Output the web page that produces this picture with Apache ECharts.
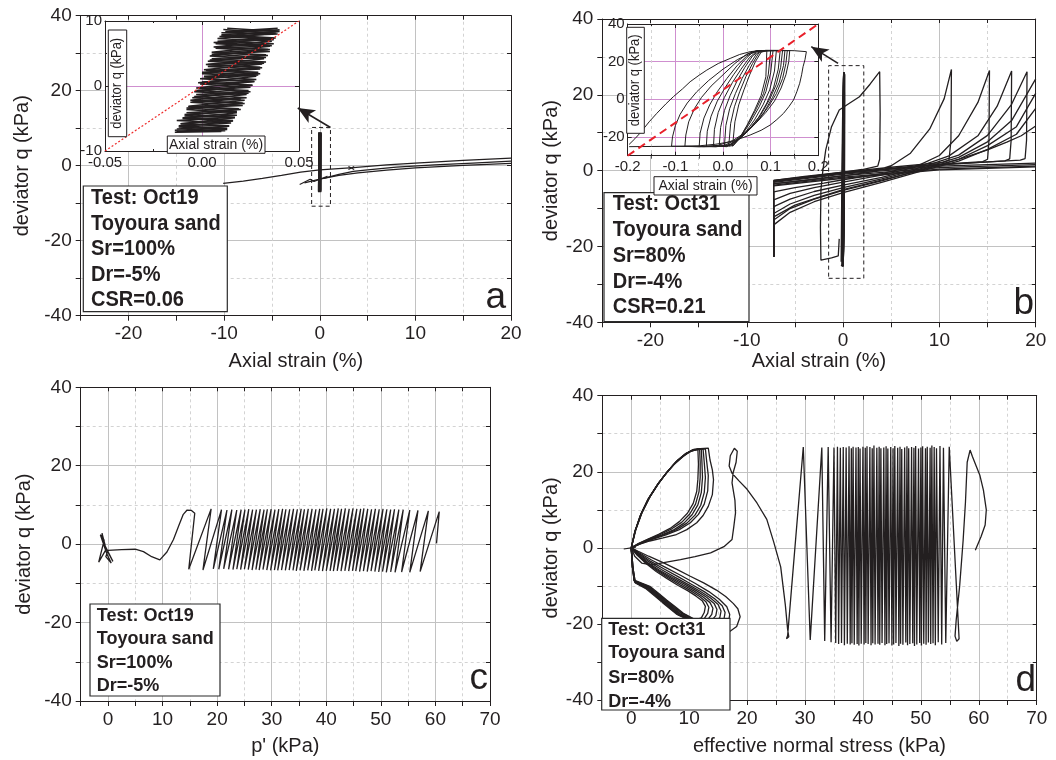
<!DOCTYPE html>
<html><head><meta charset="utf-8">
<script src="https://cdn.jsdelivr.net/npm/echarts@6/dist/echarts.min.js"></script>
<style>html,body{margin:0;padding:0;background:#fff}#chart{width:1056px;height:760px}</style>
</head><body><div id="chart"></div>
<script>
// ---------------- DATA ----------------
// Panel a (Oct19, Sr=100%): axial strain (%) vs deviator q (kPa)
const a_branch1 = [[-10.1,-4.7],[-8,-4.1],[-6,-3.4],[-4,-2.6],[-2,-1.7],[0,-1.1],[3.5,-0.5],[7,0.2],[10,0.7],[15,1.4],[20,2.0]];
const a_branch2 = [[-2.1,-5.0],[-1,-3.6],[-0.6,-4.2],[0.8,-2.8],[0.4,-3.4],[2,-2.3],[3.5,-1.5],[5,-1.1],[8,-0.4],[12,0.2],[16,0.7],[20,1.2]];
const a_branch3 = [[-1.6,-4.6],[0,-3.6],[2,-2.6],[4,-1.9],[7,-1.2],[10,-0.6],[15,0.1],[20,0.6]];
const a_marks = [[3.0,-0.2],[3.6,-1.0],[3.3,-0.6],[3.0,-1.0],[3.6,-0.2]];
const a_zoomBox = [[-0.85,-10.8],[1.12,-10.8],[1.12,10.2],[-0.85,10.2],[-0.85,-10.8]];
const a_arrow = [[1.12,10.2],[-2.3,15.4]];
// inset a: small-strain cycles
const ia_zig1 = [[-0.014,-6.8],[0.013,-6.5],[-0.012,-6.1],[0.015,-5.7],[-0.013,-5.3],[0.017,-4.8],[-0.009,-4.4],[0.018,-3.9],[-0.008,-3.4],[0.021,-3.0],[-0.006,-2.5],[0.020,-2.0],[-0.004,-1.6],[0.024,-1.1],[-0.003,-0.7],[0.025,-0.2],[-0.001,0.3],[0.027,0.7],[0.001,1.2],[0.029,1.7],[0.000,2.1],[0.030,2.6],[0.003,3.0],[0.032,3.5],[0.004,4.0],[0.033,4.4],[0.005,4.9],[0.035,5.3],[0.007,5.8],[0.036,6.2],[0.006,6.7],[0.037,7.1],[0.009,7.6],[0.039,8.0],[0.010,8.2],[0.040,8.6],[0.012,8.4],[0.039,8.9]];
const ia_zig2 = [[0.011,8.7],[0.038,8.1],[0.008,7.3],[0.036,6.9],[0.006,6.0],[0.034,5.6],[0.004,4.6],[0.032,4.2],[0.002,3.3],[0.030,2.9],[0.000,1.9],[0.028,1.5],[-0.002,0.5],[0.026,0.1],[-0.004,-0.9],[0.023,-1.3],[-0.006,-2.2],[0.021,-2.6],[-0.008,-3.6],[0.018,-4.1],[-0.010,-5.0],[0.016,-5.4],[-0.012,-6.3],[0.013,-6.7],[-0.013,-7.0],[0.012,-6.9]];
const ia_zig3 = [[-0.013,-6.6],[0.014,-6.2],[-0.011,-5.8],[0.016,-5.3],[-0.010,-4.9],[0.018,-4.5],[-0.008,-4.1],[0.020,-3.6],[-0.007,-3.2],[0.022,-2.7],[-0.005,-2.3],[0.023,-1.8],[-0.003,-1.3],[0.025,-0.9],[-0.002,-0.4],[0.026,0.1],[0.000,0.6],[0.028,1.0],[0.001,1.5],[0.030,1.9],[0.002,2.4],[0.031,2.8],[0.003,3.3],[0.033,3.7],[0.005,4.2],[0.034,4.7],[0.006,5.1],[0.035,5.6],[0.008,6.0],[0.037,6.5],[0.008,6.9],[0.038,7.4],[0.010,7.9],[0.039,8.4]];
const ia_zig4 = [[0.013,8.9],[0.040,8.4],[0.010,7.7],[0.037,7.3],[0.007,6.5],[0.035,6.1],[0.005,5.2],[0.033,4.8],[0.003,3.8],[0.031,3.4],[0.001,2.5],[0.029,2.1],[-0.001,1.1],[0.027,0.7],[-0.003,-0.3],[0.024,-0.7],[-0.005,-1.8],[0.022,-2.2],[-0.007,-3.1],[0.019,-3.5],[-0.009,-4.6],[0.017,-4.9],[-0.011,-5.8],[0.014,-6.1],[-0.014,-7.1],[0.010,-7.0]];
const ia_ref = [[-0.05,-10],[0.05,10]];

// Panel b (Oct31, Sr=80%)
const b_pathA = [[-0.4,-18],[-0.5,-22.5],[-1.2,-23.0],[-2.3,-23.6],[-2.35,-15],[-2.3,-5.1],[-2.1,0],[-1.8,5.5],[-1.2,11.6],[-0.4,16],[0.5,17.5],[1.7,19.5],[2.8,22.8],[3.8,26.1],[3.85,15],[3.8,3],[3.6,1.2],[2,0.3],[0,-0.4],[-3,-1.4],[-7.2,-2.6],[-7.2,-22.7]];
const b_c2 = [[-7.2,-22.7],[-7.2,-3.4],[-4,-2.6],[0,-1.4],[3,-0.3],[5,1.3],[7,4.6],[9,11],[10.5,19],[11.25,26.7],[11.2,8],[11.0,2.8],[10.4,2.2],[5,0.9],[0,-0.4],[-4,-1.5],[-7.2,-2.6]];
const b_c3 = [[-7.2,-22.7],[-7.2,-5.6],[-5,-4.5],[-2,-3.3],[0,-2.4],[4,-0.8],[8,1.6],[10,4.0],[12,9.2],[14,18],[15.2,26.4],[15.15,8],[15.0,3.0],[14.5,2.4],[8,1.3],[0,-0.5],[-7.2,-2.7]];
const b_c4 = [[-7.2,-22.7],[-7.2,-7.7],[-5.5,-6.0],[-3,-4.5],[0,-3.0],[4,-1.2],[8,1.2],[11,3.9],[14,9.2],[16,17],[17.5,26.3],[17.45,8],[17.3,3.1],[16.8,2.6],[10,1.5],[0,-0.6],[-7.2,-2.8]];
const b_c5 = [[-7.2,-22.7],[-7.2,-9.5],[-5.5,-7.5],[-3,-5.5],[0,-3.8],[4,-1.8],[8,0.8],[12,4.1],[15,9.3],[17.5,17.5],[19.1,26.1],[19.05,8],[18.9,3.2],[18.4,2.8],[10,1.6],[0,-0.7],[-7.2,-2.9]];
const b_c6 = [[-7.2,-22.7],[-7.2,-11.3],[-5.5,-8.8],[-3,-6.5],[0,-4.5],[4,-2.2],[8,0.5],[12,3.5],[15,7.6],[17.5,13.2],[20,24.2]];
const b_c7 = [[-7.2,-22.7],[-7.2,-13],[-5.5,-10],[-3,-7.5],[0,-5.2],[4,-2.7],[8,0.2],[12,3.0],[15,6.6],[18,11.6],[20,20.4]];
const b_c8 = [[-7.2,-22.7],[-7.2,-14.3],[-5.5,-11],[-3,-8.2],[0,-5.8],[4,-3.1],[8,-0.2],[12,2.5],[15,5.6],[18,9.6],[20,16.4]];
const b_c9 = [[-7.2,-22.7],[-7.2,-12.2],[-5,-9.1],[-2,-6.6],[0,-5.0],[4,-2.5],[8,0],[12,3.0],[15,5.5],[17,7.5],[18.5,9.2],[20,11.8]];
const b_ret1 = [[20,2.0],[10,1.2],[0,-0.9],[-7.2,-3.1]];
const b_ret2 = [[20,1.6],[10,0.8],[0,-1.3],[-7.2,-3.5]];
const b_ret3 = [[20,1.2],[10,0.4],[0,-1.7],[-7.2,-3.8]];
const b_ret4 = [[20,1.0],[10,0.2],[0,-2.0],[-7.2,-4.0]];
const b_zoomBox = [[-1.5,-28.4],[2.15,-28.4],[2.15,27.7],[-1.5,27.7],[-1.5,-28.4]];
const b_arrow = [[-0.52,28.3],[-3.3,32.7]];
// inset b: hysteresis loops
const ib_outer = [[-0.197,-24],[-0.185,-21],[-0.174,-18],[-0.155,-12],[-0.139,-7.5],[-0.12,-2.5],[-0.104,1.4],[-0.085,5.5],[-0.069,9.3],[-0.05,12.8],[-0.034,15.5],[-0.01,19],[0.015,21.7],[0.035,23.8],[0.057,25.3],[0.08,25.9],[0.12,26],[0.15,25.8],[0.175,25.3],[0.172,21],[0.168,17.3],[0.165,13],[0.161,8.5],[0.155,4],[0.148,-0.4],[0.138,-4],[0.127,-7.5],[0.113,-10.8],[0.099,-13.7],[0.08,-16.5],[0.057,-19],[0.035,-21],[0.015,-22.6],[-0.015,-23.9],[-0.048,-24.7],[-0.1,-25],[-0.15,-25.1],[-0.197,-25.2]];
const ib_L1 = [[-0.108,-25],[-0.106,-20],[-0.1,-14],[-0.09,-8],[-0.075,-2],[-0.055,4],[-0.03,10],[0,16],[0.03,21],[0.06,25],[0.09,26],[0.14,25.8],[0.138,20],[0.132,13],[0.122,6],[0.108,-1],[0.09,-7],[0.068,-13],[0.045,-18],[0.02,-22],[-0.01,-24.5],[-0.05,-25.2],[-0.108,-25]];
const ib_L2 = [[-0.08,-25],[-0.078,-19],[-0.072,-12],[-0.06,-5],[-0.045,1],[-0.025,7],[0,13],[0.025,19],[0.05,24],[0.07,25.8],[0.135,25.9],[0.132,19],[0.125,11],[0.112,3],[0.095,-4],[0.075,-11],[0.05,-17],[0.025,-22],[0,-24.8],[-0.04,-25.3],[-0.08,-25]];
const ib_L3 = [[-0.05,-25],[-0.048,-18],[-0.04,-10],[-0.028,-3],[-0.012,4],[0.008,11],[0.03,18],[0.05,23],[0.07,25.7],[0.13,25.9],[0.127,18],[0.118,9],[0.104,1],[0.086,-7],[0.064,-14],[0.04,-20],[0.015,-24],[-0.015,-25.3],[-0.05,-25]];
const ib_L4 = [[-0.035,-25],[-0.033,-17],[-0.025,-9],[-0.012,-1],[0.004,6],[0.022,13],[0.042,20],[0.06,24.5],[0.075,25.8],[0.125,25.9],[0.121,17],[0.112,8],[0.098,0],[0.08,-8],[0.058,-15],[0.035,-21],[0.012,-24.6],[-0.035,-25]];
const ib_L5 = [[-0.02,-25],[-0.018,-16],[-0.01,-7],[0.003,1],[0.02,9],[0.038,16],[0.055,22],[0.072,25.8],[0.12,25.9],[0.116,16],[0.106,6],[0.092,-2],[0.074,-10],[0.052,-17],[0.03,-22],[0.008,-25],[-0.02,-25]];
const ib_L6 = [[-0.008,-25],[-0.005,-15],[0.003,-6],[0.015,2],[0.03,10],[0.046,17],[0.062,23],[0.076,25.8],[0.112,25.9],[0.108,15],[0.098,5],[0.084,-3],[0.066,-11],[0.046,-18],[0.025,-23],[0.008,-25.2],[-0.008,-25]];
const ib_L7 = [[0.003,-25],[0.006,-14],[0.014,-5],[0.026,3],[0.04,11],[0.055,18],[0.07,24],[0.08,25.8],[0.105,25.9],[0.1,14],[0.09,4],[0.076,-4],[0.058,-12],[0.04,-19],[0.022,-24],[0.003,-25]];
const ib_L8 = [[0.012,-25],[0.016,-13],[0.024,-4],[0.035,4],[0.048,12],[0.062,19],[0.075,24.5],[0.085,25.8],[0.1,25.9],[0.095,13],[0.085,3],[0.07,-5],[0.053,-13],[0.036,-20],[0.022,-24.5],[0.012,-25]];
const ib_L9 = [[0.02,-25],[0.025,-12],[0.033,-3],[0.044,5],[0.056,13],[0.068,20],[0.08,25],[0.092,25.8],[0.09,12],[0.08,2],[0.066,-6],[0.05,-14],[0.035,-21],[0.02,-25]];
const ib_ref = [[-0.2,-30],[0.2,40]];

// Panel c (Oct19): effective stress path p' vs q — cycle peaks and troughs
const c_start = [[60.2,0.2]];
const c_top_p = [60.7,58.7,56.8,55.3,54.1,53.3,52.5,51.8,51.1,50.4,49.7,49.0,48.3,47.6,46.9,46.3,45.6,44.9,44.2,43.5,42.8,42.2,41.5,40.8,40.1,39.4,38.8,38.1,37.4,36.7,36.0,35.4,34.7,34.0,33.3,32.6,32.0,31.3,30.6,29.9,29.2,28.6,27.9,27.2,26.5,25.8,25.1,24.4,23.6,22.7,21.8,20.8,18.9];
const c_top_q = [8.3,8.5,8.6,8.7,8.8,8.8,8.9,8.8,8.9,9.0,8.9,9.0,8.9,9.0,9.1,9.0,9.0,9.1,9.0,9.1,9.0,9.1,9.0,9.0,9.1,9.0,9.0,8.9,9.0,9.0,8.9,9.0,8.9,9.0,8.9,8.9,9.0,8.9,8.8,8.9,8.9,8.8,8.9,8.8,8.8,8.9,8.8,8.8,8.7,8.8,8.7,8.8,9.0];
const c_bot_p = [57.2,55.3,53.8,52.6,51.8,51.0,50.3,49.6,48.9,48.2,47.5,46.8,46.1,45.4,44.8,44.1,43.4,42.7,42.0,41.3,40.7,40.0,39.3,38.6,37.9,37.3,36.6,35.9,35.2,34.5,33.9,33.2,32.5,31.8,31.1,30.5,29.8,29.1,28.4,27.7,27.1,26.4,25.7,25.0,24.3,23.6,22.9,22.1,21.2,20.3,19.3,17.4,14.8];
const c_bot_q = [-7.0,-7.2,-7.1,-7.2,-7.1,-7.2,-7.0,-7.1,-7.0,-6.9,-7.0,-6.9,-7.0,-6.9,-6.8,-6.9,-6.8,-6.9,-6.8,-6.9,-6.8,-6.8,-6.9,-6.8,-6.7,-6.8,-6.7,-6.8,-6.7,-6.8,-6.7,-6.6,-6.7,-6.6,-6.7,-6.6,-6.7,-6.6,-6.5,-6.6,-6.5,-6.6,-6.5,-6.4,-6.5,-6.4,-6.5,-6.4,-6.3,-6.4,-6.3,-6.6,-6.4];
const c_tail = [[15.9,7.9],[15.3,8.6],[14.5,8.7],[13.8,7.6],[13.0,4.8],[12.0,1.2],[10.8,-2.0],[9.5,-4.0],[8.0,-3.2],[6.5,-1.9],[5.0,-1.3],[2.5,-1.4],[0.0,-1.6],[-0.4,-3.2],[0.6,-4.8],[-0.2,-2.5],[-1.4,2.4],[-0.7,1.0],[-1.7,-4.6],[-0.3,-1.2],[0.9,-4.4],[-0.9,0.6],[-1.1,2.8],[-0.5,-0.4]];

// Panel d (Oct31): effective normal stress vs q
const d_start = [[59.4,-0.6],[60.4,3.0],[61.1,6.0],[61.3,10.0],[60.8,15.2],[60.2,19.0],[59.6,21.3],[58.9,24.0],[58.5,25.7],[58.0,22.5],[57.7,12],[57.3,2],[56.7,-10],[56.1,-19],[55.9,-23.2],[56.2,-24.6],[56.6,-23.9]];
const d_top_p = [54.9,53.9,53.3,52.7,52.3,51.9,51.6,51.1,50.8,50.3,50.0,49.6,49.1,48.8,48.4,47.9,47.6,47.2,46.7,46.4,46.0,45.5,45.2,44.8,44.3,44.0,43.6,43.1,42.8,42.4,41.9,41.6,41.2,40.7,40.4,40.0,39.5,39.2,38.8,38.3,38.0,37.6,37.1,36.6,36.1,35.6,35.0,34.0,32.9,29.7];
const d_top_q = [26.6,26.3,26.8,26.2,26.5,26.9,26.3,26.6,26.2,26.7,26.4,26.1,26.8,26.3,26.5,26.2,26.7,26.4,26.0,26.6,26.3,26.8,26.2,26.5,26.1,26.7,26.4,26.2,26.6,26.3,26.9,26.2,26.5,26.7,26.3,26.6,26.1,26.5,26.4,26.6,26.2,26.7,26.4,26.5,26.3,26.6,26.4,26.5,26.4,26.5];
const d_bot_p = [54.3,53.6,53.0,52.5,52.1,51.7,51.3,50.9,50.5,50.1,49.8,49.3,48.9,48.6,48.1,47.7,47.4,46.9,46.5,46.2,45.7,45.3,45.0,44.5,44.1,43.8,43.3,42.9,42.6,42.1,41.7,41.4,40.9,40.5,40.2,39.7,39.3,39.0,38.5,38.1,37.8,37.3,36.8,36.3,35.8,35.3,34.5,33.4,30.9,27.0];
const d_bot_q = [-25.0,-25.4,-24.8,-25.6,-25.1,-25.3,-24.9,-25.5,-25.2,-25.7,-25.0,-25.4,-25.8,-25.1,-25.3,-25.6,-24.9,-25.5,-25.2,-25.8,-25.0,-25.4,-25.7,-25.1,-25.3,-25.6,-25.0,-25.5,-25.2,-25.4,-25.1,-25.6,-25.3,-25.0,-25.4,-25.2,-25.7,-25.3,-25.5,-25.1,-25.4,-25.2,-25.6,-25.0,-25.3,-25.0,-24.8,-24.5,-24.2,-23.0];
const d_tail = [[26.8,-23.9],[27.2,-23.4],[27.0,-21.5],[26.6,-15],[25.8,-5],[24.6,1.5],[23.4,7.5],[21.7,11.8],[20.0,15.4],[18.6,17.6],[17.4,19.6],[16.9,21.5],[17.1,24.2],[17.8,26.2],[18.3,25.4],[18.1,22.5],[17.6,19.8],[17.4,17.1],[17.9,12.5],[18.0,9.2],[17.7,5.5],[17.4,2.2],[16.0,0.3],[13.7,-1.3],[11.0,-2.3],[8.5,-3.1],[5.6,-3.9],[3.5,-4.5],[1.8,-4.0],[0.6,-2.2],[0,0]];
const d_U1 = [[0,0],[0.6,4],[1.5,8.3],[2.8,12.5],[4.4,16.2],[5.8,19.2],[7.3,21.8],[8.8,23.8],[10.1,25.3],[11.9,26.1],[13.3,26.2],[13.6,23.1],[14.0,20.5],[14.2,17.9],[14.0,14],[13.3,10.9],[12.4,8.5],[11.3,6.6],[9.6,4.8],[7.8,3.5],[5.5,2.6],[3.2,1.8],[1.5,1.0],[0.5,0.4],[0,0]];
const d_U2 = [[0,0],[0.6,4.2],[1.6,8.6],[2.9,12.8],[4.5,16.5],[6.0,19.6],[7.5,22.2],[9.0,24.2],[10.4,25.6],[12.8,26.0],[13.0,23],[13.3,19],[13.2,15],[12.6,11.5],[11.6,8.8],[10.2,6.6],[8.3,4.8],[6.0,3.4],[3.6,2.2],[1.6,1.1],[0,0]];
const d_U3 = [[0,0],[0.7,4.5],[1.7,8.9],[3.0,13.0],[4.6,16.8],[6.2,19.9],[7.7,22.5],[9.2,24.4],[10.6,25.7],[12.4,26.0],[12.6,22.5],[12.8,18.5],[12.6,14.5],[12.0,11.2],[11.0,8.6],[9.6,6.5],[7.8,4.8],[5.6,3.4],[3.4,2.2],[1.5,1.1],[0,0]];
const d_U4 = [[0,0],[0.7,4.6],[1.8,9.1],[3.1,13.2],[4.7,17.0],[6.3,20.1],[7.8,22.7],[9.3,24.6],[10.7,25.8],[12.1,26.0],[12.2,22.5],[12.3,18.5],[12.1,14.6],[11.5,11.3],[10.5,8.7],[9.1,6.5],[7.4,4.8],[5.3,3.4],[3.2,2.2],[1.4,1.1],[0,0]];
const d_U5 = [[0,0],[0.7,4.7],[1.8,9.3],[3.2,13.4],[4.8,17.2],[6.4,20.3],[7.9,22.9],[9.4,24.8],[10.8,25.9],[11.8,26.1],[11.9,22.5],[11.9,18.5],[11.7,14.8],[11.1,11.5],[10.1,8.9],[8.7,6.7],[7.0,5.0],[5.0,3.5],[3.0,2.3],[1.3,1.1],[0,0]];
const d_U6 = [[0,0],[0.8,4.8],[1.9,9.4],[3.3,13.6],[4.9,17.4],[6.5,20.5],[8.0,23.0],[9.5,24.9],[11.5,26.0],[11.6,22],[11.5,18],[11.3,14.8],[10.7,11.7],[9.7,9.1],[8.3,6.9],[6.7,5.1],[4.8,3.6],[2.9,2.3],[1.2,1.1],[0,0]];
const d_D1 = [[0,0],[0.2,-4.8],[0.5,-8.5],[1.8,-9.3],[3.2,-10.1],[4.6,-11.8],[6.1,-13.7],[7.6,-15.5],[9,-17.2],[10.7,-18.6],[12.5,-19.8],[14.5,-20.8],[17,-22],[18.2,-20.7],[18.8,-18.1],[18.4,-16],[17.6,-14.6],[16.3,-12.8],[14.7,-11.1],[12.5,-9.2],[10.1,-7.4],[7.8,-5.6],[5.5,-3.9],[3,-2.2],[1.2,-0.9],[0,0]];
const d_D2 = [[0,0],[0.2,-4.9],[0.5,-8.6],[3.1,-10.2],[6.0,-13.8],[8.9,-17.3],[11.5,-19.3],[14,-20.5],[15.8,-20.8],[16.8,-19.5],[17.0,-17.5],[16.5,-15.5],[15.2,-13.5],[13.4,-11.5],[11,-9.3],[8.5,-7.2],[6,-5.2],[3.5,-3.2],[1.4,-1.3],[0,0]];
const d_D3 = [[0,0],[0.2,-5],[0.5,-8.7],[3,-10.3],[5.9,-13.9],[8.8,-17.4],[11.2,-19.3],[13.5,-20.2],[15.2,-20.2],[16.0,-18.8],[16.2,-17],[15.7,-15.2],[14.4,-13.4],[12.6,-11.5],[10.3,-9.5],[8,-7.5],[5.6,-5.5],[3.3,-3.5],[1.3,-1.4],[0,0]];
const d_D4 = [[0,0],[0.2,-5.0],[0.6,-8.8],[3,-10.4],[5.8,-14],[8.6,-17.5],[11,-19.3],[12.8,-19.8],[14.5,-19.6],[15.3,-18.3],[15.5,-16.6],[15,-14.9],[13.7,-13.2],[11.9,-11.4],[9.8,-9.6],[7.5,-7.7],[5.2,-5.7],[3.1,-3.7],[1.2,-1.5],[0,0]];
const d_D5 = [[0,0],[0.2,-5.1],[0.6,-8.9],[2.9,-10.5],[5.7,-14.1],[8.5,-17.6],[10.7,-19.2],[12.3,-19.6],[13.8,-19.2],[14.6,-17.8],[14.8,-16.2],[14.3,-14.6],[13,-13],[11.3,-11.3],[9.3,-9.6],[7.1,-7.8],[4.9,-5.9],[2.9,-3.9],[1.1,-1.6],[0,0]];
const d_D6 = [[0,0],[0.3,-5.2],[0.6,-9],[2.8,-10.6],[5.6,-14.2],[8.3,-17.6],[10.4,-19.1],[11.9,-19.4],[13.2,-18.9],[13.9,-17.5],[14.1,-15.9],[13.6,-14.4],[12.4,-12.9],[10.8,-11.3],[8.9,-9.7],[6.8,-7.9],[4.7,-6],[2.8,-4],[1.1,-1.7],[0,0]];
const d_D7 = [[0,0],[0.3,-5.3],[0.7,-9.1],[2.7,-10.7],[5.5,-14.3],[8.1,-17.6],[10.1,-19],[11.4,-19.2],[12.6,-18.6],[13.2,-17.2],[13.4,-15.6],[12.9,-14.2],[11.8,-12.8],[10.3,-11.3],[8.5,-9.8],[6.5,-8],[4.5,-6.1],[2.7,-4.1],[1,-1.8],[0,0]];
const d_D8 = [[0,0],[0.3,-5.4],[0.7,-9.2],[2.6,-10.8],[5.4,-14.4],[7.9,-17.5],[9.8,-18.8],[11,-19],[12.1,-18.4],[12.6,-17],[12.8,-15.4],[12.3,-14],[11.2,-12.7],[9.8,-11.3],[8.1,-9.9],[6.2,-8.1],[4.3,-6.2],[2.6,-4.2],[1,-1.9],[0,0]];
const d_tick = [[-1.3,-0.3],[0.8,0.2]];

// Text
const boxA = ['Test: Oct19','Toyoura sand','Sr=100%','Dr=-5%','CSR=0.06'];
const boxB = ['Test: Oct31','Toyoura sand','Sr=80%','Dr=-4%','CSR=0.21'];
const boxC = ['Test: Oct19','Toyoura sand','Sr=100%','Dr=-5%'];
const boxD = ['Test: Oct31','Toyoura sand','Sr=80%','Dr=-4%'];

// ---------------- CHART ----------------
const FONT = "'Liberation Sans', Arial, Helvetica, sans-serif";
const INK = '#231f20';
const GMAJ = '#c2c2c2', GMIN = '#d3d3d3', PURPLE = '#cf8fcf';
const xAxis = [], yAxis = [], series = [];

function fmtMult(m, dec) {
  return function (v) {
    const r = v / m;
    if (Math.abs(r - Math.round(r)) > 1e-6) return '';
    return dec != null ? v.toFixed(dec) : String(Math.round(v * 1000) / 1000);
  };
}
function noAx(extra) {
  return Object.assign({type:'value', axisLine:{show:false,onZero:false}, axisTick:{show:false}, axisLabel:{show:false}}, extra);
}
function mainAxes(g, xr, xName, xGap, yGap) {
  const yr = {min:-40, max:40, minor:10, major:20};
  const bx = {gridIndex:g, min:xr.min, max:xr.max};
  const by = {gridIndex:g, min:yr.min, max:yr.max};
  xAxis.push(noAx(Object.assign({}, bx, {position:'bottom', interval:xr.minor, splitLine:{show:true,lineStyle:{color:GMIN,type:[3,3],width:1}}, z:0})));
  xAxis.push(noAx(Object.assign({}, bx, {position:'bottom', minInterval:xr.major, maxInterval:xr.major, splitLine:{show:true,lineStyle:{color:GMAJ,width:1}}, z:0})));
  const xi = xAxis.length;
  xAxis.push(Object.assign({}, bx, {type:'value', position:'bottom', interval:xr.minor,
    axisLine:{show:true,onZero:false,lineStyle:{color:INK,width:1}},
    axisTick:{show:true,inside:false,length:5,lineStyle:{color:INK}},
    axisLabel:{show:true, formatter:fmtMult(xr.major), color:INK, fontSize:19, fontFamily:FONT, margin:9},
    splitLine:{show:false}, name:xName, nameLocation:'middle', nameGap:xGap,
    nameTextStyle:{color:INK, fontSize:20, fontFamily:FONT}, z:5}));
  xAxis.push(Object.assign({}, bx, {type:'value', position:'top', interval:xr.minor,
    axisLine:{show:true,onZero:false,lineStyle:{color:INK,width:1}},
    axisTick:{show:true,inside:true,length:4,lineStyle:{color:INK}},
    axisLabel:{show:false}, splitLine:{show:false}, z:5}));
  yAxis.push(noAx(Object.assign({}, by, {position:'left', interval:yr.minor, splitLine:{show:true,lineStyle:{color:GMIN,type:[3,3],width:1}}, z:0})));
  yAxis.push(noAx(Object.assign({}, by, {position:'left', interval:yr.major, splitLine:{show:true,lineStyle:{color:GMAJ,width:1}}, z:0})));
  const yi = yAxis.length;
  yAxis.push(Object.assign({}, by, {type:'value', position:'left', interval:yr.minor,
    axisLine:{show:true,onZero:false,lineStyle:{color:INK,width:1}},
    axisTick:{show:true,inside:false,length:5,lineStyle:{color:INK}},
    axisLabel:{show:true, formatter:fmtMult(yr.major), color:INK, fontSize:19, fontFamily:FONT, margin:9},
    splitLine:{show:false}, name:'deviator q (kPa)', nameLocation:'middle', nameGap:yGap,
    nameTextStyle:{color:INK, fontSize:20, fontFamily:FONT}, z:5}));
  yAxis.push(Object.assign({}, by, {type:'value', position:'right', interval:yr.minor,
    axisLine:{show:true,onZero:false,lineStyle:{color:INK,width:1}},
    axisTick:{show:true,inside:true,length:4,lineStyle:{color:INK}},
    axisLabel:{show:false}, splitLine:{show:false}, z:5}));
  return {xi, yi};
}
function insetAxes(g, xr, yr) {
  function spacing(r) { return r.nice ? {minInterval:r.nice, maxInterval:r.nice} : {interval:r.interval}; }
  const bx = Object.assign({gridIndex:g, min:xr.min, max:xr.max}, spacing(xr));
  const by = Object.assign({gridIndex:g, min:yr.min, max:yr.max}, spacing(yr));
  xAxis.push(noAx(Object.assign({}, bx, {position:'bottom',
    splitLine:{show:true,lineStyle:{color:PURPLE,width:1}},
    minorTick:{show:!!xr.minorGrid, splitNumber:2},
    minorSplitLine:{show:!!xr.minorGrid, lineStyle:{color:GMIN,type:[3,3]}}, z:4})));
  const xi = xAxis.length;
  const tickStyle = {show:true,inside:true,length:4,lineStyle:{color:INK}};
  xAxis.push(Object.assign({}, bx, {type:'value', position:'bottom',
    axisLine:{show:true,onZero:false,lineStyle:{color:INK,width:1}},
    axisTick:tickStyle, minorTick:{show:true,splitNumber:2,length:2,lineStyle:{color:INK}},
    axisLabel:{show:true, formatter:(v)=> (xr.hide && xr.hide.includes(Math.round(v*1000)/1000)) ? '' : v.toFixed(xr.dec), color:INK, fontSize:15, fontFamily:FONT, margin:4},
    splitLine:{show:false}, z:6}));
  xAxis.push(Object.assign({}, bx, {type:'value', position:'top',
    axisLine:{show:true,onZero:false,lineStyle:{color:INK,width:1}},
    axisTick:tickStyle, minorTick:{show:true,splitNumber:2,length:2,lineStyle:{color:INK}},
    axisLabel:{show:false}, splitLine:{show:false}, z:6}));
  yAxis.push(noAx(Object.assign({}, by, {position:'left',
    splitLine:{show:true,lineStyle:{color:PURPLE,width:1}}, z:4})));
  const yi = yAxis.length;
  yAxis.push(Object.assign({}, by, {type:'value', position:'left',
    axisLine:{show:true,onZero:false,lineStyle:{color:INK,width:1}},
    axisTick:tickStyle, minorTick:{show:true,splitNumber:2,length:2,lineStyle:{color:INK}},
    axisLabel:{show:true, formatter:(v)=> (yr.hide && yr.hide.includes(Math.round(v))) ? '' : v.toFixed(yr.dec), color:INK, fontSize:15, fontFamily:FONT, margin:3},
    splitLine:{show:false}, z:6}));
  yAxis.push(Object.assign({}, by, {type:'value', position:'right',
    axisLine:{show:true,onZero:false,lineStyle:{color:INK,width:1}},
    axisTick:tickStyle, axisLabel:{show:false}, splitLine:{show:false}, z:6}));
  return {xi, yi};
}

const grid = [
  {left:80.7, top:15.7, width:430.3, height:300},
  {left:602.3, top:19, width:433.4, height:303.3},
  {left:80.7, top:387.3, width:409.3, height:313.7},
  {left:602.3, top:395.7, width:434.4, height:304.3},
  {left:105, top:21, width:194, height:130, show:true, backgroundColor:'#fff', borderWidth:0, z:3},
  {left:627.7, top:24, width:190.6, height:131.7, show:true, backgroundColor:'#fff', borderWidth:0, z:3}
];

const AX = mainAxes(0, {min:-25,max:20,minor:5,major:10}, 'Axial strain (%)', 36, 48);
const BX = mainAxes(1, {min:-25,max:20,minor:5,major:10}, 'Axial strain (%)', 29, 37);
const CX = mainAxes(2, {min:-5,max:70,minor:5,major:10}, "p' (kPa)", 35, 46);
const DX = mainAxes(3, {min:-5,max:70,minor:5,major:10}, 'effective normal stress (kPa)', 36, 39);
const IA = insetAxes(4, {min:-0.05,max:0.05,interval:0.05,dec:2}, {min:-10,max:10,interval:10,dec:0});
const IB = insetAxes(5, {min:-0.2,max:0.2,interval:0.1,dec:1,minorGrid:true}, {min:-30,max:40,nice:20,dec:0,hide:[-30]});

function line(data, ax, opt) {
  const o = Object.assign({type:'line', data:data, xAxisIndex:ax.xi, yAxisIndex:ax.yi, showSymbol:false, symbol:'none',
    silent:true, animation:false, z:2, lineStyle:{color:INK, width:1.2}}, opt || {});
  series.push(o);
  return o;
}
const dashedBox = {color:INK, width:1, type:[4,3]};
function arrowMark(pts) {
  return {silent:true, animation:false, symbol:['none','arrow'], symbolSize:[11,17], z:8,
    lineStyle:{color:INK, width:1.6, type:'solid'}, label:{show:false}, emphasis:{disabled:true},
    data:[[{coord:pts[0]},{coord:pts[1]}]]};
}

// panel a
const aZigs = [ia_zig1, ia_zig2, ia_zig3, ia_zig4];
line(a_branch1, AX, {markLine: arrowMark(a_arrow)});
line(a_branch2, AX); line(a_branch3, AX); line(a_marks, AX);
aZigs.forEach(d => line(d, AX, {lineStyle:{color:INK,width:3.4}}));
line(a_zoomBox, AX, {lineStyle:dashedBox});
// inset a
aZigs.forEach(d => line(d, IA, {z:5, lineStyle:{color:INK,width:1.5}}));
line(ia_ref, IA, {z:6, lineStyle:{color:'#ee2a2a',width:1.2,type:[2,2]}});

// panel b
const bLoops = [ib_outer, ib_L1, ib_L2, ib_L3, ib_L4, ib_L5, ib_L6, ib_L7, ib_L8, ib_L9];
[b_pathA,b_c2,b_c3,b_c4,b_c5,b_c6,b_c7,b_c8,b_c9,b_ret1,b_ret2,b_ret3,b_ret4].forEach(d => line(d, BX, {lineStyle:{color:INK,width:1.3}}));
bLoops.forEach(d => line(d, BX, {lineStyle:{color:INK,width:1.4}}));
line(b_zoomBox, BX, {lineStyle:dashedBox, markLine: arrowMark(b_arrow)});
// inset b
bLoops.forEach(d => line(d, IB, {z:5, lineStyle:{color:INK,width:1.0}}));
line(ib_ref, IB, {z:6, lineStyle:{color:'#e8202a',width:2,type:[8,5]}});

// panel c
const c_path = c_start.slice();
for (let i = 0; i < c_top_p.length; i++) { c_path.push([c_top_p[i], c_top_q[i]]); c_path.push([c_bot_p[i], c_bot_q[i]]); }
c_tail.forEach(p => c_path.push(p));
line(c_path, CX, {lineStyle:{color:INK,width:1.3}});

// panel d
const d_path = d_start.slice();
for (let i = 0; i < d_top_p.length; i++) { d_path.push([d_top_p[i], d_top_q[i]]); d_path.push([d_bot_p[i], d_bot_q[i]]); }
d_tail.forEach(p => d_path.push(p));
line(d_path, DX, {lineStyle:{color:INK,width:1.3}});
[d_U1,d_U2,d_U3,d_U4,d_U5,d_U6].forEach(d => line(d, DX, {lineStyle:{color:INK,width:1.3}}));
[d_D1,d_D2,d_D3,d_D4,d_D5,d_D6,d_D7,d_D8].forEach(d => line(d, DX, {lineStyle:{color:INK,width:1.3}}));
line(d_tick, DX);

// annotation graphics
function textBox(x, y, w, h, lines, ys, tx, fs, sx) {
  const els = [{type:'rect', z:20, shape:{x:x, y:y, width:w, height:h}, style:{fill:'#fff', stroke:'#2b2b2b', lineWidth:1.2}}];
  lines.forEach((t, i) => els.push({type:'text', z:21, x:tx, y:ys[i], scaleX:sx,
    style:{text:t, fontSize:fs, fontWeight:'bold', fontFamily:FONT, fill:INK, align:'left', verticalAlign:'middle'}}));
  return els;
}
function nameBox(x, y, w, h, text, cx, cy, rot, sx) {
  return [
    {type:'rect', z:20, shape:{x:x, y:y, width:w, height:h}, style:{fill:'#fff', stroke:INK, lineWidth:1}},
    {type:'text', z:21, x:cx, y:cy, rotation:rot, scaleX:sx,
      style:{text:text, fontSize:14, fontFamily:FONT, fill:INK, align:'center', verticalAlign:'middle'}}
  ];
}
function letter(t, x, y) {
  return {type:'text', z:21, x:x, y:y, style:{text:t, fontSize:37, fontFamily:FONT, fill:INK, align:'right', verticalAlign:'middle'}};
}
const graphic = [].concat(
  textBox(83.3, 186, 144, 125.7, boxA, [198, 223.5, 249, 274.5, 300], 91, 22, 0.91),
  textBox(604, 192.7, 145, 129, boxB, [204, 230, 256, 281.7, 307.3], 612.7, 22, 0.91),
  textBox(90, 604, 130, 92, boxC, [615.5, 638.5, 662.5, 685.5], 96.7, 19, 0.95),
  textBox(601.7, 618.3, 128.3, 91.7, boxD, [629.5, 653, 677.3, 701.5], 608.3, 19, 0.95),
  nameBox(108.3, 30, 18.4, 106.7, 'deviator q (kPa)', 117.5, 83.3, Math.PI/2, 0.92),
  nameBox(167.3, 136, 97.7, 17.3, 'Axial strain (%)', 216, 144.7, 0, 1),
  nameBox(626.7, 27.3, 17.6, 106, 'deviator q (kPa)', 635.5, 80.3, Math.PI/2, 0.93),
  nameBox(654, 176.7, 103, 18.3, 'Axial strain (%)', 705.5, 186, 0, 1),
  [letter('a', 506, 297.5), letter('b', 1034, 304), letter('c', 488, 679), letter('d', 1036, 680.5)]
);

const chart = echarts.init(document.getElementById('chart'), null, {renderer:'canvas'});
chart.setOption({
  animation:false,
  backgroundColor:'#fff',
  textStyle:{fontFamily:FONT},
  grid: grid, xAxis: xAxis, yAxis: yAxis, series: series, graphic: graphic
});
</script></body></html>
